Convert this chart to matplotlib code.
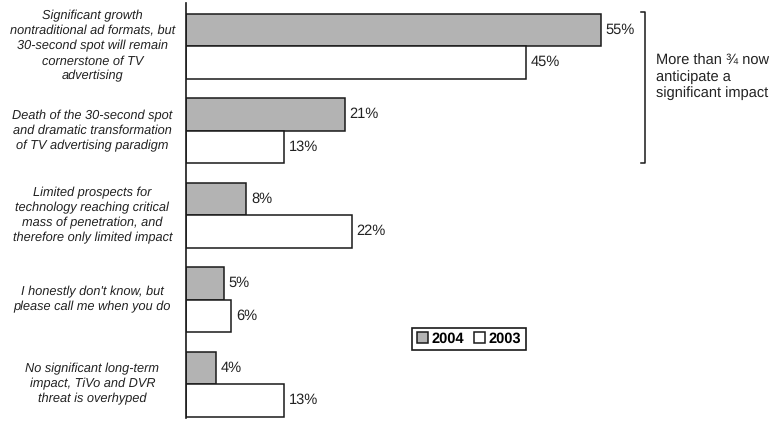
import matplotlib
matplotlib.use('Agg')
import matplotlib.pyplot as plt
import numpy as np

plt.rcParams['font.family'] = 'Liberation Sans'
plt.rcParams['text.hinting'] = 'none'

# data
labels = [
    'Significant growth\nnontraditional ad formats, but\n30-second spot will remain\ncornerstone of TV\nadvertising',
    'Death of the 30-second spot\nand dramatic transformation\nof TV advertising paradigm',
    'Limited prospects for\ntechnology reaching critical\nmass of penetration, and\ntherefore only limited impact',
    "I honestly don't know, but\nplease call me when you do",
    'No significant long-term\nimpact, TiVo and DVR\nthreat is overhyped',
]
vals_2004 = [55, 21, 8, 5, 4]
vals_2003 = [45, 13, 22, 6, 13]
years = ['2004', '2003']
note = 'More than \u00be now\nanticipate a\nsignificant impact'

W, H = 778, 430
fig = plt.figure(figsize=(W / 100, H / 100), dpi=100)
ax = fig.add_axes([186 / W, 1 - 418 / H, 589 / W, 415 / H])

y = np.arange(len(labels))
h = 0.385
edge = '#1a1a1a'
ax.barh(y - h / 2, vals_2004, height=h, color='#b3b3b3', edgecolor=edge, linewidth=1.1, label=years[0])
ax.barh(y + h / 2, vals_2003, height=h, color='white', edgecolor=edge, linewidth=1.1, label=years[1])

for yi, v in zip(y, vals_2004):
    ax.text(v + 0.6, yi - h / 2, f'{v}%', va='center', ha='left', fontsize=10.5, color='#222222')
for yi, v in zip(y, vals_2003):
    ax.text(v + 0.6, yi + h / 2, f'{v}%', va='center', ha='left', fontsize=10.5, color='#222222')

ax.set_xlim(0, 78)
ax.set_ylim(4.40, -0.51)
for s in ['top', 'right', 'bottom']:
    ax.spines[s].set_visible(False)
ax.spines['left'].set_linewidth(1.2)
ax.spines['left'].set_color(edge)
ax.set_xticks([])
ax.set_yticks([])

# category labels
for yi, lab in zip(y, labels):
    ax.text(-12.4, yi, lab, ha='center', va='center', style='italic', fontsize=9.2,
            color='#222222', linespacing=1.3, transform=ax.transData, clip_on=False)

# bracket
bx = (645 - 186) / 7.55
ax.plot([bx - 0.5, bx, bx, bx - 0.5], [-0.40, -0.40, 1.38, 1.38], color=edge, lw=1.1, clip_on=False)
fig.text(656 / W, 1 - 77 / H, note, ha='left', va='center', fontsize=10.5, color='#222222', linespacing=1.2)

leg = fig.legend(loc='center', bbox_to_anchor=(469 / W, 1 - 339 / H), ncol=2,
                 handlelength=0.75, handleheight=0.75, handletextpad=0.25, columnspacing=0.7,
                 borderpad=0.3, fancybox=False, edgecolor=edge, framealpha=1,
                 prop={'weight': 'bold', 'size': 10.5})
leg.get_frame().set_linewidth(1.2)

fig.savefig('out.png', dpi=100)
